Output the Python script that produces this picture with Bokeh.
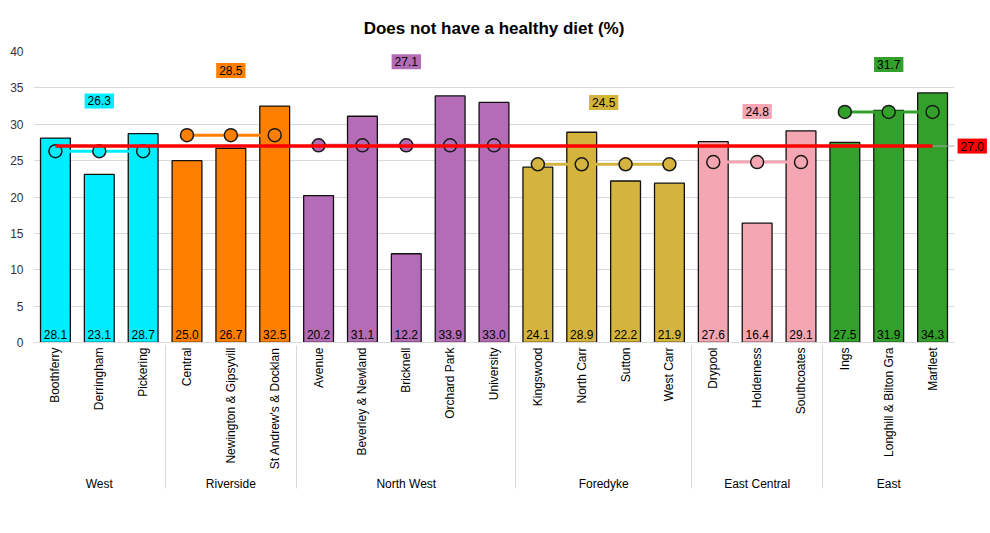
import math
from bokeh.plotting import figure
from bokeh.models import (ColumnDataSource, FactorRange, Range1d, LabelSet, Label,
                          Legend, LegendItem, SingleIntervalTicker)
from bokeh.core.properties import value
from bokeh.embed import file_html
from bokeh.resources import INLINE

FONT = "Liberation Sans"

title_text = "Does not have a healthy diet (%)"
areas = ["West", "Riverside", "North West", "Foredyke", "East Central", "East"]
wards = ["Boothferry", "Derringham", "Pickering",
         "Central", "Newington & Gipsyvill", "St Andrew's & Docklan",
         "Avenue", "Beverley & Newland", "Bricknell", "Orchard Park", "University",
         "Kingswood", "North Carr", "Sutton", "West Carr",
         "Drypool", "Holderness", "Southcoates",
         "Ings", "Longhill & Bilton Gra", "Marfleet"]
ward_area = ["West"] * 3 + ["Riverside"] * 3 + ["North West"] * 5 + \
            ["Foredyke"] * 4 + ["East Central"] * 3 + ["East"] * 3
ward_values = [28.1, 23.1, 28.7, 25.0, 26.7, 32.5, 20.2, 31.1, 12.2, 33.9, 33.0,
               24.1, 28.9, 22.2, 21.9, 27.6, 16.4, 29.1, 27.5, 31.9, 34.3]
area_values = [26.3, 28.5, 27.1, 24.5, 24.8, 31.7]
area_label_y = [33.2, 37.4, 38.6, 33.0, 31.75, 38.2]
area_colors = ["#00EEFF", "#FF8000", "#B36CB5", "#D4B43C", "#F4A7B3", "#33A02C"]
hull_value = 27.0
hull_color = "#FF0000"

color_of = dict(zip(areas, area_colors))
area_of = dict(zip(areas, area_values))
factors = [(a, w) for a, w in zip(ward_area, wards)]

x_range = FactorRange(*factors, group_padding=0, factor_padding=0, range_padding=0)

p = figure(x_range=x_range, y_range=Range1d(0, 40), width=990, height=533,
           frame_width=921, frame_height=291,
           output_backend="svg", toolbar_location=None,
           min_border_left=33, min_border_right=36, min_border_top=51,
           min_border_bottom=0, outline_line_color=None)

# title
p.title.text = title_text
p.title.align = "center"
p.title.text_font = FONT
p.title.text_font_size = "17px"
p.title.text_font_style = "bold"
p.title.text_color = "black"
p.title.standoff = 27

# bars
bar_src = ColumnDataSource(dict(
    x=factors, top=ward_values,
    color=[color_of[a] for a in ward_area],
    label=[f"{v:.1f}" for v in ward_values]))
p.vbar(x="x", top="top", width=0.68, source=bar_src, fill_color="color",
       line_color="#111111", line_width=1.3)

p.add_layout(LabelSet(x="x", y=0, text="label", source=bar_src, text_align="center",
                      text_baseline="bottom", y_offset=4, text_font=value(FONT),
                      text_font_size="12px", text_color="black"))

# area lines + markers
for a in areas:
    fx = [f for f in factors if f[0] == a]
    ys = [area_of[a]] * len(fx)
    p.line(x=fx, y=ys, line_color=color_of[a], line_width=3)
    p.scatter(x=fx, y=ys, size=13, fill_color=color_of[a], line_color="#1a1a1a",
              line_width=1.5)

# hull line
hull_r = p.line(x=[factors[0], factors[-1]], y=[hull_value, hull_value],
                line_color=hull_color, line_width=3.5)
p.segment(x0=[factors[-1]], y0=[hull_value], x1=[factors[-1] + (0.5,)], y1=[hull_value],
          line_color="#A6A6A6", line_width=1)

# synthetic coordinate of the last ward's centre on the factor range
last_center = len(factors) - 0.5
p.add_layout(Label(x=last_center, y=hull_value, text=f"{hull_value:.1f}",
                   x_offset=25, text_align="left", text_baseline="middle",
                   text_font=FONT, text_font_size="12px", text_color="black",
                   background_fill_color=hull_color, padding=3), "right")

# area labels
area_src = ColumnDataSource(dict(x=areas, y=area_label_y,
                                 text=[f"{v:.1f}" for v in area_values],
                                 color=area_colors))
p.text(x="x", y="y", text="text", source=area_src, text_align="center",
       text_baseline="middle", text_font=value(FONT), text_font_size="12px",
       text_color="black", background_fill_color="color", padding=3)

# legend dummies
d_bar = p.vbar(x=[], top=[], width=0.5, fill_color="white", line_color="black",
               line_width=1.3)
d_line = p.line(x=[], y=[], line_color="black", line_width=3)
d_dot = p.scatter(x=[], y=[], size=8, fill_color="black", line_color="black")
legend = Legend(items=[LegendItem(label="Ward", renderers=[d_bar]),
                       LegendItem(label="Area", renderers=[d_line, d_dot]),
                       LegendItem(label="Hull", renderers=[hull_r])],
                orientation="horizontal", location="center",
                label_text_font=FONT, label_text_font_size="12px",
                glyph_width=26, glyph_height=9, label_height=12, label_standoff=2,
                spacing=10, border_line_color=None, background_fill_alpha=0,
                padding=0, margin=0)
p.add_layout(legend, "below")

# axes
p.yaxis.ticker = SingleIntervalTicker(interval=5)
p.yaxis.axis_line_color = None
p.yaxis.major_tick_line_color = None
p.yaxis.minor_tick_line_color = None
p.yaxis.major_label_text_font = FONT
p.yaxis.major_label_text_font_size = "12px"
p.yaxis.major_label_text_color = "#333333"
p.yaxis.major_label_standoff = 4

p.xaxis.major_label_orientation = math.pi / 2
p.xaxis.group_label_orientation = "horizontal"
p.xaxis.major_label_text_font = FONT
p.xaxis.major_label_text_font_size = "12px"
p.xaxis.major_label_text_color = "black"
p.xaxis.group_text_font = FONT
p.xaxis.group_text_font_size = "12px"
p.xaxis.group_text_color = "black"
p.xaxis.group_text_font_style = "normal"
p.xaxis.major_tick_line_color = None
p.xaxis.major_tick_out = 0
p.xaxis.axis_line_color = "#D9D9D9"
p.xaxis.separator_line_color = "#D9D9D9"
p.xaxis.separator_line_width = 1

p.xgrid.grid_line_color = None
p.ygrid.grid_line_color = "#D9D9D9"

open("out.html", "w").write(file_html(p, INLINE))
